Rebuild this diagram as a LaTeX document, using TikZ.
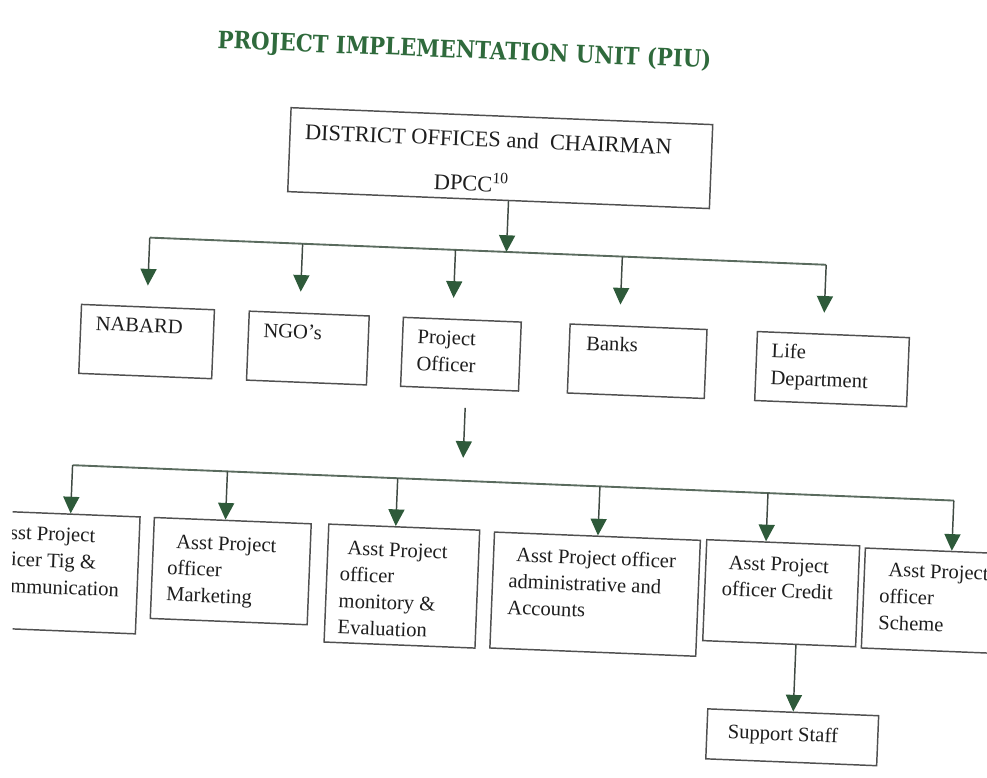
\documentclass[tikz,border=0pt]{standalone}
\usepackage{graphicx}
\usepackage{fontspec}
\setmainfont{Liberation Serif}
\newfontfamily\titlefont{DejaVu Serif}
\usetikzlibrary{arrows.meta}
\definecolor{ink}{HTML}{1E1E1E}
\definecolor{boxline}{HTML}{505050}
\definecolor{shaft}{HTML}{404A43}
\definecolor{head}{HTML}{2E5A3A}
\definecolor{busline}{HTML}{5A6B5E}
\definecolor{titlegreen}{HTML}{2F6A3C}
% #1 width, #2 height, #3 left pad, #4 first baseline from top, #5 baselineskip, #6 text
\newcommand{\bt}[6]{\parbox[c][#2][t]{#1}{\fontsize{15.45pt}{#5}\selectfont\raggedright\leftskip=#3\relax\vspace*{\dimexpr#4-11pt\relax}\rule{0pt}{11pt}#6}}
\tikzset{
  box/.style={draw=boxline, line width=1.1pt, inner sep=0pt, text=ink},
  arr/.style={draw=shaft, line width=1.1pt, -{Triangle[width=12pt,length=12.5pt,color=head]}},
  bus/.style={draw=busline, line width=1.4pt}
}
\begin{document}
\begin{tikzpicture}[x=0.75pt,y=-0.75pt]
\useasboundingbox (0,0) rectangle (987,777);
\fill[white] (0,0) rectangle (987,777);
\clip (12.5,0) rectangle (987,777);
\begin{scope}[rotate around={-2.3:(493,388)}, transform shape]
% title
\node[text=titlegreen, inner sep=0pt] (title) at (451,53)
  {\resizebox{370.5pt}{13.6pt}{\titlefont\bfseries PROJECT IMPLEMENTATION UNIT (PIU)}};
% top box
\node[box] (top) at (491,158) {\parbox[c][63pt][t]{316.5pt}{\fontsize{16.8pt}{33.4pt}\selectfont\raggedright\leftskip=11.25pt\relax\vspace*{11.5pt}\rule{0pt}{12pt}DISTRICT OFFICES and\ \ CHAIRMAN\\\hspace*{98pt}DPCC\textsuperscript{10}}};
% row 1
\node[box] (nabard) at (145,355.5) {\bt{99.75pt}{51.75pt}{11.25pt}{19pt}{20.25pt}{NABARD}};
\node[box] (ngo) at (306.4,355.5) {\bt{90pt}{51.75pt}{11.25pt}{19pt}{20.25pt}{NGO’s}};
\node[box] (po) at (459.6,355.5) {\bt{88.5pt}{51.75pt}{11.25pt}{19pt}{20.25pt}{Project\\Officer}};
\node[box] (banks) at (636,355.5) {\bt{102.75pt}{51.75pt}{12.75pt}{19pt}{20.25pt}{Banks}};
\node[box] (life) at (831,355.5) {\bt{114pt}{51.75pt}{11.25pt}{19pt}{20.25pt}{Life\\Department}};
% row 2
\node[box] (b1) at (62.75,589.5) {\bt{124.1pt}{87.75pt}{11pt}{20.5pt}{20pt}{\hspace*{5pt}Asst Project\\officer Tig \&\\Communication}};
\node[box] (b2) at (238.3,581.5) {\bt{117.75pt}{75.75pt}{11.25pt}{22.5pt}{19.8pt}{\hspace*{6pt}Asst Project\\officer\\Marketing}};
\node[box] (b3) at (409.9,589.6) {\bt{113.25pt}{88.5pt}{9.75pt}{22.5pt}{19.8pt}{\hspace*{5pt}Asst Project\\officer\\monitory \&\\Evaluation}};
\node[box] (b4) at (603.3,589.9) {\bt{154.5pt}{87pt}{12pt}{21.5pt}{19.8pt}{\hspace*{5pt}Asst Project officer\\administrative and\\Accounts}};
\node[box] (b5) at (789.2,581.5) {\bt{114.75pt}{75.75pt}{12.75pt}{21.5pt}{19.8pt}{\hspace*{4.5pt}Asst Project\\officer Credit}};
\node[box] (b6) at (958.5,583) {\bt{130.5pt}{75pt}{12pt}{20.5pt}{20pt}{\hspace*{6pt}Asst Project\\officer\\Scheme}};
\node[box] (sup) at (806,725) {\bt{128.25pt}{37.5pt}{15.75pt}{21.5pt}{19.8pt}{Support Staff}};
% first bus
\coordinate (bus1L) at (144,251.5);
\coordinate (bus1R) at (821,251.5);
\coordinate (bus1M) at (501,251.5);
\draw[bus] (bus1L) -- (bus1R);
\draw[arr] (top.south -| bus1M) -- (bus1M);
\coordinate (tA) at (144,299.5);
\coordinate (tB) at (297,299.5);
\coordinate (tC) at (450,299.5);
\coordinate (tD) at (617,299.5);
\coordinate (tE) at (821,299.5);
\foreach \t in {tA,tB,tC,tD,tE} \draw[arr] (\t |- bus1L) -- (\t);
% arrow below project officer
\coordinate (poS) at (466,409);
\coordinate (poT) at (466,459);
\draw[arr] (poS) -- (poT);
% second bus
\coordinate (bus2L) at (76,482);
\coordinate (bus2R) at (958,482);
\draw[bus] (bus2L) -- (bus2R);
\coordinate (d1) at (76,482);
\coordinate (d2) at (231,482);
\coordinate (d3) at (401.4,482);
\coordinate (d4) at (603.8,482);
\coordinate (d5) at (772,482);
\coordinate (d6) at (958,482);
\draw[arr] (d1) -- (d1 |- b1.north);
\draw[arr] (d2) -- (d2 |- b2.north);
\draw[arr] (d3) -- (d3 |- b3.north);
\draw[arr] (d4) -- (d4 |- b4.north);
\draw[arr] (d5) -- (d5 |- b5.north);
\draw[arr] (d6) -- (d6 |- b6.north);
% credit to support staff
\draw[arr] (b5.south -| sup.north) -- (sup.north);
\end{scope}
\end{tikzpicture}
\end{document}
